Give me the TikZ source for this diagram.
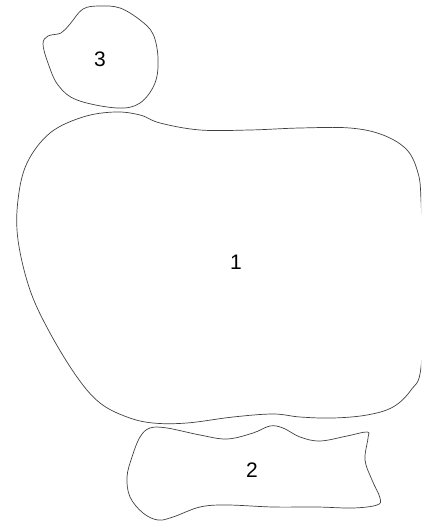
\documentclass[tikz,border=0pt]{standalone}
\usepackage{fontspec}
\setmainfont{Liberation Sans}
\begin{document}
\begin{tikzpicture}[x=1pt,y=-1pt,
  blob/.style={draw=black!75,line width=0.7pt},
  lbl/.style={font=\fontsize{21}{23}\selectfont,inner sep=0pt}]
\useasboundingbox (0,0) rectangle (421,521);
\begin{scope}
\clip (0,0) rectangle (421,521);
% region 3
\draw[blob] plot[smooth cycle,tension=0.6] coordinates {
 (100,6) (120,8) (140,20) (153,34) (158,58) (155,83) (140,103) (117,108)
 (77,100) (58,85) (48,63) (43,44) (48,36) (61,33) (70,24) (83,9)};
% region 1
\draw[blob] plot[smooth cycle,tension=0.6] coordinates {
 (115,112) (140,115) (160,123) (200,130) (250,130) (300,128) (350,128)
 (383,135) (407,150) (418,173) (421,200) (423,280) (421,367) (411,390)
 (393,407) (367,415) (333,418) (300,417) (273,414) (233,417) (187,423)
 (153,423) (127,417) (100,403) (77,377) (50,333) (30,290) (18,240)
 (18,200) (27,163) (50,133) (83,117)};
% region 2
\draw[blob] plot[smooth cycle,tension=0.6] coordinates {
 (150,428) (167,428) (200,435) (227,439) (253,433) (270,426) (283,428)
 (300,437) (320,441) (347,436) (367,432) (368,438) (365,460) (372,480)
 (380,498) (377,505) (353,508) (317,507) (273,507) (227,505) (200,507)
 (173,517) (158,520) (143,513) (130,497) (127,477) (132,457) (140,437)};
\end{scope}
\node[lbl] (n3) at (100,59) {3};
\node[lbl] (n1) at (236,262) {1};
\node[lbl] (n2) at (252,470) {2};
\end{tikzpicture}
\end{document}
